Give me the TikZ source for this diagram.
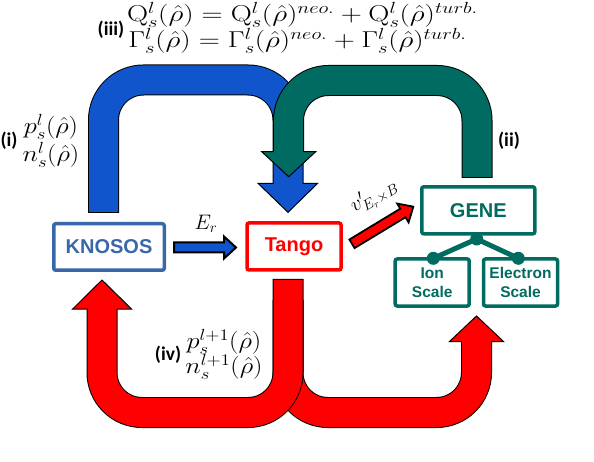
\documentclass[tikz,border=0pt]{standalone}
\usepackage{fix-cm}
\usepackage{graphicx}
\usepackage{fontspec}
\newfontfamily\arialb{Liberation Sans}[BoldFont={* Bold}]
\newfontfamily\calib{Carlito}[BoldFont={* Bold}]
\definecolor{fblue}{RGB}{17,85,204}
\definecolor{fteal}{RGB}{0,107,96}
\definecolor{kblue}{RGB}{57,104,168}
\definecolor{fred}{RGB}{255,0,0}
\newcommand{\wm}[1]{\scalebox{1.15}[1]{$#1$}}
\newcommand{\wq}[1]{\scalebox{1.27}[1]{$#1$}}
\tikzset{
  fatout/.style={line width=31pt, draw=black, rounded corners=40pt},
  fatin/.style={line width=29pt, rounded corners=40pt},
  fathead/.style={draw=black, line width=1pt, line join=miter},
  boxnode/.style={draw, line width=3.5pt, rounded corners=2pt, fill=white, inner sep=0pt,
    font=\arialb\bfseries\fontsize{20}{24}\selectfont},
  smallbox/.style={draw=fteal, text=fteal, line width=3.5pt, rounded corners=2pt, fill=white,
    inner sep=0pt, align=center, minimum width=74pt, minimum height=47pt,
    font=\arialb\bfseries\fontsize{15.5}{18.7}\selectfont},
  lab/.style={font=\calib\bfseries\fontsize{19.5}{22}\selectfont, inner sep=0pt},
  mth/.style={font=\fontsize{23}{26}\selectfont, inner sep=0pt},
  dot/.style={circle, fill=fteal, inner sep=0pt, minimum size=13pt},
}
\begin{document}
\begin{tikzpicture}[x=1pt,y=-1pt]
\useasboundingbox (0,0) rectangle (594,462);
% blue fat arrow (i) -> (iii)
\draw[fatout] (103.5,213) -- (103.5,80) -- (288,80) -- (288,183.3);
\filldraw[fathead, fill=fblue] (258,183.3) -- (317.7,183.3) -- (288,212.3) -- cycle;
\draw[fatin, fblue] (103.5,212) -- (103.5,80) -- (288,80) -- (288,187);
% teal fat arrow (ii)
\draw[fatout] (477,178) -- (477,80.5) -- (288.5,80.5) -- (288.5,151.7);
\filldraw[fathead, fill=fteal] (261.7,151.7) -- (315.7,151.7) -- (288.7,176.7) -- cycle;
\draw[fatin, fteal] (477,177) -- (477,80.5) -- (288.5,80.5) -- (288.5,155);
% red fat arrow to GENE
\draw[fatout] (288,300) -- (288,412.5) -- (476.5,412.5) -- (476.5,341.7);
\filldraw[fathead, fill=fred] (449.3,341.7) -- (503.7,341.7) -- (476.5,316) -- cycle;
\draw[fatin, fred] (288,300) -- (288,412.5) -- (476.5,412.5) -- (476.5,338);
% red fat arrow to KNOSOS
\draw[fatout] (288,279) -- (288,412.5) -- (102,412.5) -- (102,309);
\filldraw[fathead, fill=fred] (72.7,309) -- (131.5,309) -- (102,280) -- cycle;
\draw[fatin, fred] (288,280) -- (288,412.5) -- (102,412.5) -- (102,305);

% boxes
\node[boxnode, draw=kblue, text=kblue, minimum width=110.5pt, minimum height=46.5pt] (knosos) at (109,247) {KNOSOS};
\node[boxnode, draw=fred, text=fred, minimum width=94pt, minimum height=47pt] (tango) at (294,246.5) {Tango};
\node[boxnode, draw=fteal, text=fteal, minimum width=113pt, minimum height=47pt] (gene) at (478.3,210.3) {GENE};
\node[smallbox] (ion) at (432.2,282.5) {Ion\\Scale};
\node[smallbox] (elec) at (520.5,282.5) {Electron\\Scale};
% tree
\coordinate (dtop) at (476.7,239);
\coordinate (dl) at (433.3,258.3);
\coordinate (dr) at (518.3,258.3);
\draw[fteal, line width=5pt] (dl) -- (dtop) -- (dr);
\node[dot] at (dtop) {};
\node[dot] at (dl) {};
\node[dot] at (dr) {};

% E_r arrow
\filldraw[fill=fblue, draw=black, line width=2pt, line join=miter]
  (174,242.5) -- (224,242.5) -- (224,236.5) -- (236,247.5) -- (224,258.5) -- (224,252.5) -- (174,252.5) -- cycle;
\node[mth, font=\fontsize{21}{24}\selectfont] (er) at (206,224) {$E_r$};
% v' arrow
\begin{scope}[shift={(352,243.8)}, rotate=31.2]
\filldraw[fill=fred, draw=black, line width=1.8pt, line join=miter]
  (0,-5) -- (59.5,-5) -- (59.5,-11) -- (71.7,0) -- (59.5,11) -- (59.5,5) -- (0,5) -- cycle;
\end{scope}
\node[mth, font=\fontsize{21}{24}\selectfont, rotate=30] (vlab) at (374,196) {$v'_{E_r\times B}$};

% labels
\node[mth] (qline) at (302.5,15) {\wq{\mathrm{Q}_s^l(\hat{\rho}) = \mathrm{Q}_s^l(\hat{\rho})^{neo.} + \mathrm{Q}_s^l(\hat{\rho})^{turb.}}};
\node[mth] (gline) at (297.5,41) {\wq{\Gamma_s^l(\hat{\rho}) = \Gamma_s^l(\hat{\rho})^{neo.} + \Gamma_s^l(\hat{\rho})^{turb.}}};
\node[lab] (liii) at (111,30) {(iii)};
\node[lab] (li) at (9,141) {(i)};
\node[mth] (pl) at (51,127) {\wm{p_s^l(\hat{\rho})}};
\node[mth] (nl) at (51,155) {\wm{n_s^l(\hat{\rho})}};
\node[lab] (lii) at (509,141) {(ii)};
\node[lab] (liv) at (168,355) {(iv)};
\node[mth] (pl1) at (224,341.7) {\wm{p_s^{l+1}(\hat{\rho})}};
\node[mth] (nl1) at (224,366.7) {\wm{n_s^{l+1}(\hat{\rho})}};
\end{tikzpicture}
\end{document}
